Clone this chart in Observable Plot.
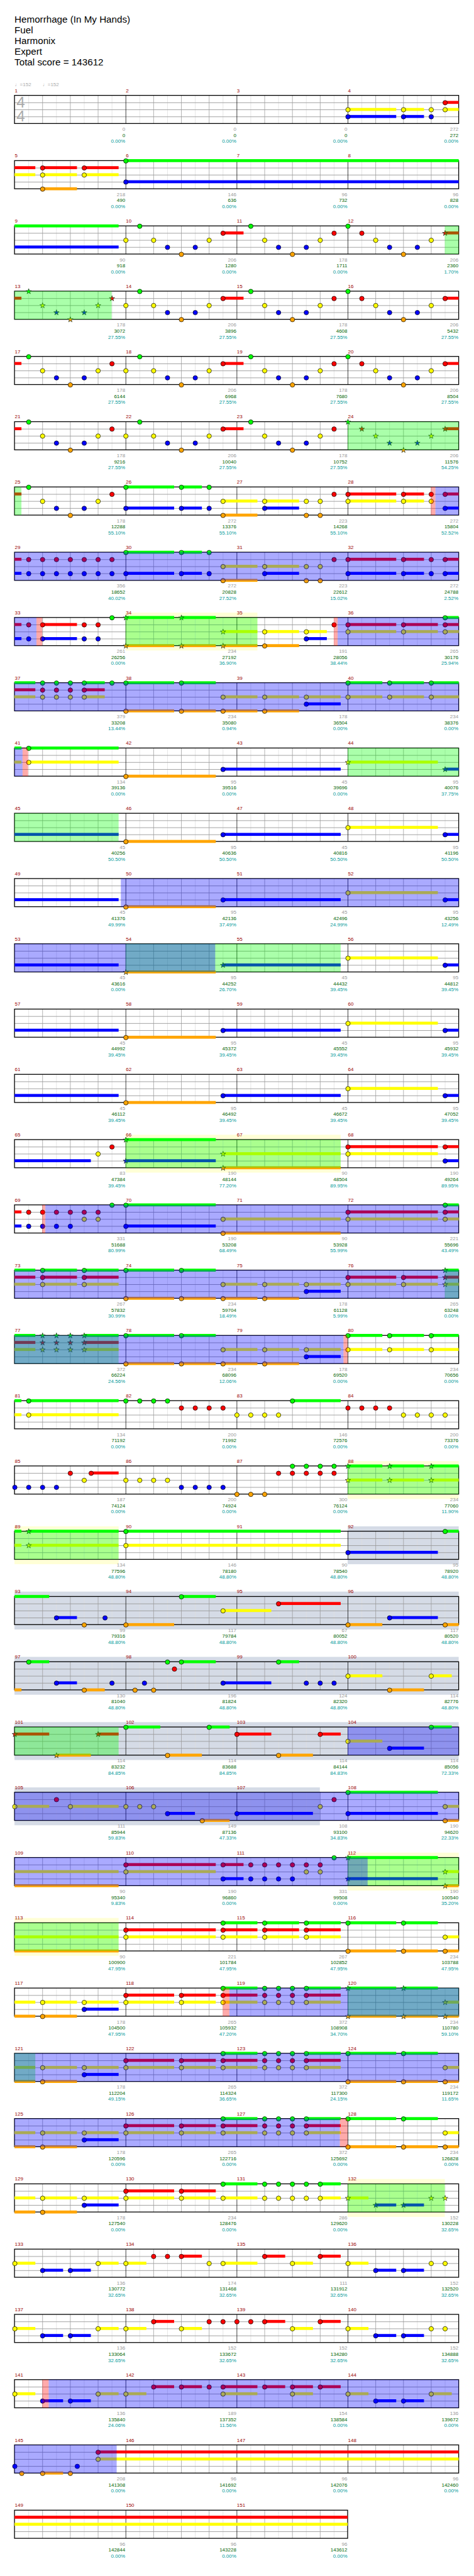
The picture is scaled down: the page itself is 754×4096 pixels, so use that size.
<!DOCTYPE html>
<html><head><meta charset="utf-8">
<script src="https://cdn.jsdelivr.net/npm/d3@7"></script>
<script src="https://cdn.jsdelivr.net/npm/@observablehq/plot@0.6"></script>
<style>
html,body{margin:0;padding:0;background:#fff;}
#title{position:relative;height:117.8px;font-family:"Liberation Sans",Arial,sans-serif;font-size:15.2px;color:#000;}
#title div{position:absolute;left:23.1px;line-height:17px;white-space:nowrap;}
#chart svg{display:block;}
</style></head><body>
<div id="title"></div><div id="chart"></div>
<script>
(function(){
const S = 0.736;
const titleLines = ["Hemorrhage (In My Hands)", "Fuel", "Harmonix", "Expert", "Total score = 143612"];
const tempoMarks = [{m: 1, b: 0, text: "\u2669=152"}, {m: 1, b: 1, text: "\u2669=152"}];
const timeSig = ["4", "4"];
const laneNames = "GRYBO";
const laneColors = ["#00ff00", "#ff0000", "#ffff00", "#0000ff", "#ffa500"];

// notes per measure: "beat:LANES~sustainBeats"
const measureNotes = [
  "", "", "", "0:YB~1.75 2:YB~.75 3:YB 3.5:RY~1.25",
  "1:RYO~1.25 2.5:RY~1.25", "0:GB~15.75", "", "",
  "", "0:Y .5:G 1:Y 1.5:B 2:O 2.5:B 3:Y 3.5:R~.75", ".5:G 1:Y 1.5:B 2:O 2.5:B 3:Y 3.5:R", "0:G .5:R 1:Y 1.5:B 2:O 2.5:B 3:Y 3.5:R~.75",
  ".5:G 1:Y 1.5:B 2:O 2.5:B 3:Y 3.5:R", "0:Y .5:G 1:Y 1.5:B 2:O 2.5:B 3:Y 3.5:R~.75", ".5:G 1:Y 1.5:B 2:O 2.5:B 3:Y 3.5:R", "0:G .5:R 1:Y 1.5:B 2:O 2.5:B 3:Y 3.5:R~.75",
  ".5:G 1:Y 1.5:B 2:O 2.5:B 3:Y 3.5:R", "0:Y .5:G 1:Y 1.5:B 2:O 2.5:B 3:Y 3.5:R~.75", ".5:G 1:Y 1.5:B 2:O 2.5:B 3:Y 3.5:R", "0:G .5:R 1:Y 1.5:B 2:O 2.5:B 3:Y 3.5:R~.75",
  ".5:G 1:Y 1.5:B 2:O 2.5:B 3:Y 3.5:R", "0:Y .5:G 1:Y 1.5:B 2:O 2.5:B 3:Y 3.5:R~.75", ".5:G 1:Y 1.5:B 2:O 2.5:B 3:Y 3.5:R", "0:G .5:R 1:Y 1.5:B 2:O 2.5:B 3:Y 3.5:R~.75",
  ".5:G 1:Y 1.5:B 2:O 2.5:B 3:Y 3.5:R", "0:GB~1.75 2:GB~.75 3:GB 3.5:YO~1.25", "1:YB~1.25 2.5:YO 3:YO 3.5:R", "0:RY~1.75 2:RY~.75 3:RY 3.5:RB~.75",
  ".5:RB 1:RB 1.5:RB 2:RB 2.5:RB 3:RB 3.5:RB", "0:GB~1.75 2:GB~.75 3:GB 3.5:YO~1.25", "1:YB~1.25 2.5:YO 3:YO 3.5:R", "0:RB~1.75 2:RB~.75 3:RB 3.5:RB~.75",
  ".5:RB 1:RB~1.25 2.5:RB 3:RB 3.5:G", "0:GO~1.75 2:GO~1.25 3.5:YO~1.25", "1:YO~1.25 2.5:YB~.75 3.5:R", "0:RY~1.75 2:RY~1.25 3.5:GRY~1.25",
  "1:GRY 1.5:GRY 2:GRY 2.5:GRY~.75 3.5:G", "0:GO~1.75 2:GO~1.25 3.5:YO~1.25", "1:YO~1.25 2.5:YB~1.25", "0:GY~1.25 1.5:GY~1.25 3:GY~1.25",
  ".5:GY~3.25", "0:O~3.25 3.5:B~4.25", "", "0:Y~3.25 3.5:B~4.25",
  "", "0:O~3.25 3.5:B~4.25", "", "0:Y~3.25 3.5:B~4.25",
  "", "0:O~3.25 3.5:B~4.25", "", "0:Y~3.25 3.5:B~4.25",
  "", "0:O~3.25 3.5:B~4.25", "", "0:Y~3.25 3.5:B~4.25",
  "", "0:O~3.25 3.5:B~4.25", "", "0:Y~3.25 3.5:B~4.25",
  "", "0:O~3.25 3.5:B~4.25", "", "0:Y~3.25 3.5:B~3.25",
  "3:Y 3.5:R", "0:GB~3.25 3.5:YO~4.25", "", "0:RY~3.25 3.5:RB~.75",
  ".5:RB 1:RB 1.5:RB 2:RB 2.5:RY 3:RY 3.5:G", "0:GB~3.25 3.5:YO~4.25", "", "0:RY~3.25 3.5:GRY~1.25",
  "1:GRY~1.25 2.5:GRY~1.25", "0:GO~1.75 2:GO~1.25 3.5:YO~1.25", "1:YO~1.25 2.5:YB~1.25", "0:RY~1.75 2:RY~1.25 3.5:GRY~1.25",
  "1:GRY 1.5:GRY 2:GRY 2.5:GRY~1.25", "0:GO~1.75 2:GO~1.25 3.5:YO~1.25", "1:YO~1.25 2.5:YB~1.25", "0:GY~1.25 1.5:GY~1.25 3:GY~1.25",
  ".5:GY~3.25", "0:G .5:G 1:G 1.5:G 2:R 2.5:R 3:R 3.5:R", "0:Y .5:Y 1:Y 1.5:Y 2:G~1.75", "0:R .5:R 1:R 1.5:R 2:Y 2.5:Y 3:Y 3.5:Y",
  "0:B .5:B 1:B 1.5:B 2:R 2.5:Y 2.75:R~1", "0:Y .5:Y 1:Y 1.5:Y 2:B 2.5:B 3:B 3.5:B", "0:O .5:O 1:O 1.5:R 2:GR 2.5:GR 3:GR 3.5:GR", "0:GY~1.25 1.5:GY~1.25 3:GY~1.25",
  ".5:GY~3.25", "0:GY~7.75", "", "0:B~3.25 3.5:G~1.75",
  "1.5:B~.75 2.5:O 3.25:B", "0:O~1.75 2:G~1.25 3.5:Y~1.75", "1.5:R~2.25", "0:O~1.25 1.5:B~1.75 3.5:O~.75",
  ".5:G~.75 1.5:B~.75 2.5:O~.75 3.5:B", ".33:O .67:B 1:O 1.5:G 1.75:R 2:G~1.25 3.5:B~1.75", "1.5:G~.75 2.5:B 3:B 3.5:B", "0:Y~1.25 1.5:O~1.25 3:Y~.75",
  "0:R~1.25 1.5:O~1.25 3:R~.75", "0:G~1.25 1.5:O~1.25 3:G~.75", "0:R~1.25 1.5:O~1.25 3:R~.75", "0:Y~1.25 1.5:B~1.25 3:G~.75",
  "0:Y~1.25 1.5:R 2:Y~1.75", "0:Y .5:Y 1:Y 1.5:B~1 2.75:O~1", "0:B~2.75 3:Y 3.5:R", "0:GB~3.25 3.5:YO~4.25",
  "", "0:RY~3.25 3.5:RB~.75", ".5:RB 1:RB 1.5:RB 2:RB 2.5:RY 3:RY 3.5:G", "0:GB~3.25 3.5:YO~4.25",
  "", "0:RY~3.25 3.5:GRY~1.25", "1:GRY~1.25 2.5:GRY~1.25", "0:GO~1.75 2:GO~1.25 3.5:YO~1.25",
  "1:YO~1.25 2.5:YB~1.25", "0:RY~1.75 2:RY~1.25 3.5:GRY~1.25", "1:GRY 1.5:GRY 2:GRY 2.5:GRY~1.25", "0:GO~1.75 2:GO~1.25 3.5:YO~1.25",
  "1:YO~1.25 2.5:YB~1.25", "0:RY~1.75 2:RY~1.25 3.5:GRY~1.25", "1:GRY 1.5:GRY 2:GRY 2.5:GRY~1.25", "0:GO~1.75 2:GO~1.25 3.5:YO~1.25",
  "1:YO~1.25 2.5:YB~1.25", "0:RY~1.75 2:RY~1.25 3.5:GRY~1.25", "1:GRY 1.5:GRY 2:GRY 2.5:GRY~1.25", "0:GO~1.75 2:GO~1.25 3.5:YO~1.25",
  "1:YO~1.25 2.5:YB~1.25", "0:RY~1.75 2:RY~1.25 3.5:GY~1.25", "1:GY 1.5:GY 2:GY 2.5:GY 3:GY~.75", "0:Y~.75 1:B~.75 2:B~.75 3:Y 3.5:Y",
  "0:Y~.75 1:B~.75 2:B~.75 3:Y~.75", "0:Y~.75 1:R 1.5:R 2:R~.75 3:Y 3.5:Y~1.25", "1:R~.75 2:Y~.75 3:R~.75", "0:Y~.75 1:B~.75 2:B~.75 3:Y 3.5:Y",
  "0:Y~.75 1:B~.75 2:B~.75 3:Y~.75", "0:Y~.75 1:R~.75 2:Y~.75 3:R 3.5:R", "0:R .5:R 1:R~.75 2:Y~.75 3:R~.75", "0:Y~.75 1:B~.75 2:B~.75 3:Y 3.5:Y",
  "0:Y~.75 1:B~.75 2:B~.75 3:Y~.75", "0:Y~.75 1:R~.75 2:R~.75 3:R 3.5:RY~1.25", "1:R~.75 2:RY~.75 3:R~.75", "0:Y~.75 1:B~.75 2:B~.75 3:Y~.75",
  "0:B .25:O 1:O~.75 2:O 2.25:B 3:RY~25", "", "", "",
  "", "", ""
];

// [startMeasure, startBeat, endMeasure, endBeat]
const spPhrases = [[12,3.5,13,3.5],[24,0,25,.25],[34,0,35,.75],[44,0,45,3.75],[54,0,55,3.75],[66,0,67,3.75],[76,3.5,77,3.75],[88,0,89,3.75],[101,0,101,3.75],[112,0,113,3.75],[120,0,121,.75],[132,0,132,3.5]];
const overdrive = [[28,3.16,33,.79],[35,3.64,41,.29],[49,3.83,54,3.23],[69,1.11,79,3.85],[104,0,112,.72],[118,3.74,127,3.72],[141,1.23,145,3.68]];
const activation = [[28,3,28,3.16],[33,.79,33,1],[35,3.5,35,3.64],[41,.29,41,.49],[69,1,69,1.11],[79,3.85,80,0],[118,3.5,118,3.74],[127,3.72,128,0],[141,1,141,1.23]];
const highlightBoxes = [[34,0,35,.75],[66,0,67,3.75],[88,0,89,3.75],[112,0,113,3.75],[132,0,132,3.5]];
const shadeBoxes = [[92,0,107,3]];

const measureGain = [
  0,0,0,272, 218,146,96,96, 90,206,178,206, 178,206,178,206,
  178,206,178,206, 178,206,178,206, 178,272,223,272, 356,272,223,272,
  261,234,191,265, 379,234,178,234, 134,95,45,95, 45,95,45,95,
  45,95,45,95, 45,95,45,95, 45,95,45,95, 45,95,45,95,
  83,190,90,190, 331,190,90,221, 267,234,178,265, 372,234,178,234,
  134,200,146,200, 187,200,300,234, 134,146,90,95, 99,117,67,117,
  130,196,124,114, 114,114,114,114, 111,149,108,190, 90,190,331,190,
  90,221,267,234, 178,265,372,234, 178,265,372,234, 178,265,372,234,
  178,234,286,152, 136,174,111,152, 136,152,152,152, 136,189,154,136,
  208,96,96,96, 96,96,96
];
const totalScore = [
  0,0,0,272, 490,636,732,828, 918,1280,1711,2360, 3072,3896,4608,5432,
  6144,6968,7680,8504, 9216,10040,10752,11576, 12288,13376,14268,15804, 18652,20828,22612,24788,
  26256,27192,28056,30176, 33208,35080,36504,38376, 39136,39516,39696,40076, 40256,40636,40816,41196,
  41376,42136,42496,43256, 43616,44252,44432,44812, 44992,45372,45552,45932, 46112,46492,46672,47052,
  47384,48144,48504,49264, 51688,53208,53928,55696, 57832,59704,61128,63248, 66224,68096,69520,70656,
  71192,71992,72576,73376, 74124,74924,76124,77060, 77596,78180,78540,78920, 79316,79784,80052,80520,
  81040,81824,82320,82776, 83232,83688,84144,85056, 85944,87136,93100,94620, 95340,96860,99508,100540,
  100900,101784,102852,103788, 104500,105932,108908,110780, 112204,114324,117300,119172, 120596,122716,125692,126828,
  127540,128476,129620,130228, 130772,131468,131912,132520, 133064,133672,134280,134888, 135840,137352,138584,139672,
  141308,141692,142076,142460, 142844,143228,143612
];
const meterPct = [
  0,0,0,0, 0,0,0,0, 0,0,0,1.70, 27.55,27.55,27.55,27.55,
  27.55,27.55,27.55,27.55, 27.55,27.55,27.55,54.25, 55.10,55.10,55.10,52.52, 40.02,27.52,15.02,2.52,
  0,36.90,38.44,25.94, 13.44,0.94,0,0, 0,0,0,37.75, 50.50,50.50,50.50,50.50,
  49.99,37.49,24.99,12.49, 0,26.70,39.45,39.45, 39.45,39.45,39.45,39.45, 39.45,39.45,39.45,39.45,
  39.45,77.20,89.95,89.95, 80.99,68.49,55.99,43.49, 30.99,18.49,5.99,0, 24.56,12.06,0,0,
  0,0,0,0, 0,0,0,11.90, 48.80,48.80,48.80,48.80, 48.80,48.80,48.80,48.80,
  48.80,48.80,48.80,48.80, 84.85,84.85,84.83,72.33, 59.83,47.33,34.83,22.33, 9.83,0,0,35.20,
  47.95,47.95,47.95,47.95, 47.95,47.20,34.70,59.10, 49.15,36.65,24.15,11.65, 0,0,0,0,
  0,0,0,32.65, 32.65,32.65,32.65,32.65, 32.65,32.65,32.65,32.65, 24.06,11.56,0,0,
  0,0,0,0, 0,0,0
];

// ---- layout (reference pixels, scaled by S through the scales) ----
const REF_TOP = 160, H = 3977;
const X0 = 31.35, MEAS = 240.0;
const TOP0 = 205.7, PITCH = 141, LANE = 15.2, STAFF = 60.8;
const totalBeats = measureNotes.length * 4;
const nRows = Math.ceil(totalBeats / 16);
const rowLen = r => Math.min(16, totalBeats - 16 * r);
const rowTop = r => TOP0 + PITCH * r;
const laneY = (r, k) => rowTop(r) + LANE * k;
const toT = (m, b) => (m - 1) * 4 + b;
function split(t0, t1) {
  const out = []; let a = t0;
  while (a < t1 - 1e-6) {
    const r = Math.floor(a / 16 + 1e-6);
    const e = Math.min(t1, (r + 1) * 16);
    out.push({r, x1: a - 16 * r, x2: e - 16 * r});
    a = e;
  }
  return out;
}
const regionRects = list => list.flatMap(([m0, b0, m1, b1]) => split(toT(m0, b0), toT(m1, b1)));
const spT = spPhrases.map(([m0, b0, m1, b1]) => [toT(m0, b0), toT(m1, b1)]);

const notes = [], bars = [];
measureNotes.forEach((s, i) => {
  if (!s) return;
  s.trim().split(/\s+/).forEach(tok => {
    const [pos, rest] = tok.split(":");
    const [lanes, len] = rest.split("~");
    const t = i * 4 + parseFloat(pos);
    const r = Math.floor(t / 16 + 1e-6);
    for (const c of lanes) {
      const k = laneNames.indexOf(c);
      const star = spT.some(([a, b]) => t >= a - 1e-6 && t <= b + 1e-6);
      notes.push({r, x: t - 16 * r, k, color: laneColors[k], star});
      if (len) for (const seg of split(t, t + parseFloat(len))) bars.push({...seg, k, color: laneColors[k]});
    }
  });
});

const rows = d3.range(nRows).map(r => ({r, len: rowLen(r)}));
const grid = [];
rows.forEach(({r, len}) => { for (let x = 0.5; x < len - 1e-6; x += 0.5) grid.push({r, x, kind: x % 4 === 0 ? "m" : (x % 1 === 0 ? "b" : "e")}); });
const laneLines = rows.flatMap(({r, len}) => [1, 2, 3].map(k => ({r, k, len})));
const measures = measureNotes.map((_, i) => ({m: i + 1, r: Math.floor(i / 4), x: (i % 4) * 4,
  gain: measureGain[i], score: totalScore[i], pct: meterPct[i]}));

// title
const tdiv = document.getElementById("title");
titleLines.forEach((s, i) => { const d = document.createElement("div"); d.textContent = s; d.style.top = ((42 + 23 * i) * S - 8.5) + "px"; tdiv.appendChild(d); });

const FS = 8;
const chart = Plot.plot({
  width: 754, height: H, margin: 0,
  x: {domain: [0, 16], range: [X0 * S, (X0 + 4 * MEAS) * S], axis: null},
  y: {domain: [REF_TOP, REF_TOP + H / S], range: [0, H], axis: null},
  color: {type: "identity"},
  style: {fontFamily: "'Liberation Sans', Arial, sans-serif", background: "#fff", overflow: "visible"},
  marks: [
    Plot.rect(regionRects(highlightBoxes), {x1: "x1", x2: "x2", y1: d => rowTop(d.r) - 10.5, y2: d => rowTop(d.r) + STAFF + 10.5, fill: "#ffffd6"}),
    Plot.rect(regionRects(shadeBoxes), {x1: "x1", x2: "x2", y1: d => rowTop(d.r) - 10.5, y2: d => rowTop(d.r) + STAFF + 10.5, fill: "#d5dbe6"}),
    Plot.ruleX(grid.filter(d => d.kind === "e"), {x: "x", y1: d => rowTop(d.r), y2: d => rowTop(d.r) + STAFF, stroke: "#dddddd", strokeWidth: 0.75}),
    Plot.ruleX(grid.filter(d => d.kind === "b"), {x: "x", y1: d => rowTop(d.r), y2: d => rowTop(d.r) + STAFF, stroke: "#999999", strokeWidth: 0.75}),
    Plot.ruleY(laneLines, {y: d => laneY(d.r, d.k), x1: 0, x2: d => d.len, stroke: "#999999", strokeWidth: 0.9}),
    Plot.ruleX(grid.filter(d => d.kind === "m"), {x: "x", y1: d => rowTop(d.r), y2: d => rowTop(d.r) + STAFF, stroke: "#000", strokeWidth: 0.75}),
    Plot.rect(rows, {x1: 0, x2: "len", y1: d => rowTop(d.r), y2: d => rowTop(d.r) + STAFF, fill: "none", stroke: "#000", strokeWidth: 1.3}),
    Plot.text(timeSig, {x: () => 0.06, y: (d, i) => rowTop(0) + 15.3 + 30 * i, text: d => d, fontSize: 24.3, fill: "#aaaaaa", textAnchor: "start"}),
    Plot.rect(bars, {x1: "x1", x2: "x2", y1: d => laneY(d.r, d.k) - 3.2, y2: d => laneY(d.r, d.k) + 3.2, fill: "color"}),
    Plot.dot(notes.filter(d => !d.star), {x: "x", y: d => laneY(d.r, d.k), r: 3.6, fill: "color", stroke: "#000", strokeWidth: 0.7}),
    Plot.dot(notes.filter(d => d.star), {x: "x", y: d => laneY(d.r, d.k), symbol: "star", r: 2.7, fill: "color", stroke: "#1a2a1a", strokeWidth: 0.7}),
    Plot.rect(regionRects(spPhrases), {x1: "x1", x2: "x2", y1: d => rowTop(d.r), y2: d => rowTop(d.r) + STAFF, fill: "#00ff00", fillOpacity: 0.333}),
    Plot.rect(regionRects(overdrive), {x1: "x1", x2: "x2", y1: d => rowTop(d.r), y2: d => rowTop(d.r) + STAFF, fill: "#0000ff", fillOpacity: 0.333}),
    Plot.rect(regionRects(activation), {x1: "x1", x2: "x2", y1: d => rowTop(d.r), y2: d => rowTop(d.r) + STAFF, fill: "#ff0000", fillOpacity: 0.333}),
    Plot.text(tempoMarks, {x: d => toT(d.m, d.b), y: () => rowTop(0) - 24.7, text: "text", fontSize: FS, fill: "#aaaaaa", textAnchor: "start"}),
    Plot.text(measures, {x: "x", y: d => rowTop(d.r) - 11, text: d => String(d.m), fontSize: FS, fill: "#990000", textAnchor: "start"}),
    Plot.text(measures, {x: d => d.x + 4, y: d => rowTop(d.r) + 72.5, text: d => String(d.gain), fontSize: FS, fill: "#999999", textAnchor: "end", dx: -1}),
    Plot.text(measures, {x: d => d.x + 4, y: d => rowTop(d.r) + 85.5, text: d => String(d.score), fontSize: FS, fill: "#006400", textAnchor: "end", dx: -1}),
    Plot.text(measures, {x: d => d.x + 4, y: d => rowTop(d.r) + 98.5, text: d => d.pct.toFixed(2) + "%", fontSize: FS, fill: "#009999", textAnchor: "end", dx: -1})
  ]
});
document.getElementById("chart").appendChild(chart);
})();
</script></body></html>
